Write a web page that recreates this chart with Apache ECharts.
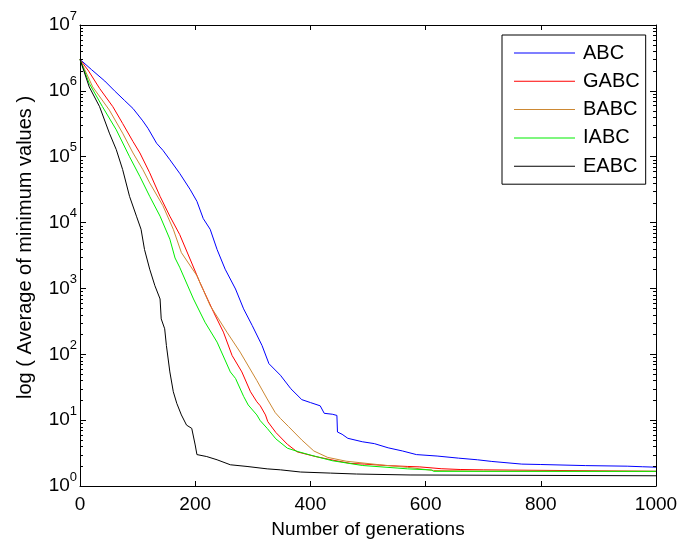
<!DOCTYPE html>
<html>
<head>
<meta charset="utf-8">
<script src="https://cdn.jsdelivr.net/npm/echarts@6/dist/echarts.min.js"></script>
<style>html,body{margin:0;padding:0;background:#fff;}#c{width:695px;height:544px;}</style>
</head>
<body>
<div id="c"></div>
<script>
var seriesNames = ['ABC', 'GABC', 'BABC', 'IABC', 'EABC'];
var xTicks = [0, 200, 400, 600, 800, 1000];
var yTickExponents = [0, 1, 2, 3, 4, 5, 6, 7];
var minorMultipliers = [2, 3, 4, 5, 6, 7, 8, 9];

var abcData = [[0,3.0e6],[20,2.1e6],[43,1.41e6],[60,1.0e6],[77,7.2e5],[92,5.4e5],[109,3.5e5],[118,2.7e5],[133,1.6e5],[144,1.25e5],[156,9.0e4],[173,5.6e4],[191,3.2e4],[203,2.1e4],[214,1.15e4],[226,7.9e3],[238,3.9e3],[252,1.96e3],[270,980],[284,490],[299,273],[316,136],[328,72],[348,48],[366,30],[385,20.5],[400,18.5],[417,16.5],[424,12.7],[438,12.3],[446,11.8],[447,6.6],[455,6.1],[465,5.3],[490,4.7],[511,4.4],[535,3.8],[560,3.4],[584,3.0],[620,2.85],[657,2.65],[690,2.5],[715,2.36],[767,2.15],[800,2.12],[878,2.04],[950,2.0],[977,1.96],[1000,1.93]];
var gabcData = [[0,3.0e6],[15,2.0e6],[34,1.09e6],[57,5.75e5],[74,3.2e5],[92,1.7e5],[104,1.14e5],[121,5.7e4],[139,2.5e4],[156,1.25e4],[173,6.6e3],[191,2.8e3],[208,1.24e3],[232,435],[249,217],[264,96],[281,54],[296,27],[307,19],[313,16.5],[322,12],[326,9.5],[340,6.5],[360,4.3],[377,3.3],[409,2.8],[441,2.45],[470,2.2],[494,2.15],[530,2.05],[569,1.98],[590,1.95],[627,1.83],[660,1.78],[700,1.76],[702,1.67],[1000,1.67]];
var babcData = [[0,3.0e6],[22,1.15e6],[51,5.1e5],[74,2.28e5],[92,1.14e5],[109,6.4e4],[121,4.0e4],[144,1.8e4],[162,7.9e3],[176,3.5e3],[203,1.56e3],[226,548],[255,217],[278,108],[307,40],[325,21],[339,13],[348,10.6],[362,8.0],[385,5.0],[406,3.4],[430,2.72],[462,2.38],[520,2.1],[569,1.92],[614,1.72],[700,1.68],[1000,1.67]];
var iabcData = [[0,3.0e6],[16,1.3e6],[39,5.75e5],[63,2.56e5],[86,1.0e5],[104,5.0e4],[121,2.5e4],[139,1.25e4],[156,5.6e3],[165,2.9e3],[173,2.1e3],[197,692],[217,307],[238,153],[261,54],[270,43],[284,23],[292,17],[307,12],[313,9.8],[325,7.5],[340,5.2],[360,3.75],[380,3.3],[400,2.95],[438,2.42],[490,2.05],[552,1.87],[569,1.82],[610,1.75],[614,1.67],[1000,1.67]];
var eabcData = [[0,3.0e6],[16,1.15e6],[34,5.75e5],[51,2.28e5],[63,1.28e5],[74,6.4e4],[86,2.5e4],[98,1.25e4],[106,7.9e3],[112,3.9e3],[121,1.96e3],[130,1.1e3],[139,692],[141,345],[147,244],[150,136],[156,54],[162,27],[168,18],[176,12],[185,8.4],[194,7.5],[200,4.2],[203,3.0],[220,2.8],[238,2.5],[261,2.1],[290,1.98],[325,1.82],[348,1.76],[383,1.63],[435,1.57],[480,1.52],[573,1.47],[575,1.43],[1000,1.43]];

var seriesData = [abcData, gabcData, babcData, iabcData, eabcData];
var seriesColors = ['#0000ff', '#ff0000', '#cc8833', '#00ee00', '#000000'];

var minorData = [];
for (var e = 0; e < 7; e++) {
  for (var m = 0; m < minorMultipliers.length; m++) {
    minorData.push([0, minorMultipliers[m] * Math.pow(10, e)]);
  }
}

var FONT = 'Liberation Sans, Arial, sans-serif';
var chart = echarts.init(document.getElementById('c'), null, {renderer: 'canvas'});

var series = seriesNames.map(function (n, i) {
  return {
    name: n, type: 'line', data: seriesData[i], symbol: 'none', showSymbol: false,
    xAxisIndex: 0, yAxisIndex: 0,
    lineStyle: {color: seriesColors[i], width: 1}, itemStyle: {color: seriesColors[i]},
    z: 3 + i
  };
});
series.push({
  type: 'custom', silent: true, data: minorData, xAxisIndex: 0, yAxisIndex: 0, z: 10,
  renderItem: function (params, api) {
    var p = api.coord([0, api.value(1)]);
    var cs = params.coordSys;
    var y = Math.round(p[1]) + 0.5;
    return {type: 'group', children: [
      {type: 'line', shape: {x1: cs.x, y1: y, x2: cs.x + 3, y2: y}, style: {stroke: '#000', lineWidth: 1}},
      {type: 'line', shape: {x1: cs.x + cs.width, y1: y, x2: cs.x + cs.width - 3, y2: y}, style: {stroke: '#000', lineWidth: 1}}
    ]};
  }
});

function yLabel(v) {
  var ex = Math.round(Math.log10(v));
  if (yTickExponents.indexOf(ex) < 0) return '';
  return '{b|10}{s|' + ex + '}';
}

chart.setOption({
  animation: false,
  backgroundColor: '#fff',
  grid: {left: 80, right: 39, top: 25, bottom: 56},
  legend: {
    data: seriesNames, orient: 'vertical', left: 502, top: 35,
    icon: 'rect', itemWidth: 61, itemHeight: 1, itemGap: 8.3,
    padding: [8, 6, 8, 12], borderColor: '#000', borderWidth: 1, backgroundColor: '#fff',
    textStyle: {fontSize: 20, color: '#000', fontFamily: FONT, lineHeight: 20, padding: [0, 0, 0, 3]}
  },
  xAxis: [{
    type: 'value', min: xTicks[0], max: xTicks[xTicks.length - 1], interval: 200, position: 'bottom',
    name: 'Number of generations', nameLocation: 'middle', nameGap: 34,
    nameTextStyle: {fontSize: 19, color: '#000', fontFamily: FONT},
    axisLine: {show: true, onZero: false, lineStyle: {color: '#000', width: 1}},
    axisTick: {show: true, inside: true, length: 5, lineStyle: {color: '#000'}},
    axisLabel: {fontSize: 19, color: '#000', fontFamily: FONT, margin: 9, formatter: function (v) { return String(v); }},
    splitLine: {show: false}
  }, {
    type: 'value', min: xTicks[0], max: xTicks[xTicks.length - 1], interval: 200, position: 'top',
    axisLine: {show: true, onZero: false, lineStyle: {color: '#000', width: 1}},
    axisTick: {show: true, inside: true, length: 5, lineStyle: {color: '#000'}},
    axisLabel: {show: false}, splitLine: {show: false}
  }],
  yAxis: [{
    type: 'log', logBase: 10, min: 1, max: 1e7, position: 'left',
    name: 'log ( Average of minimum values )', nameLocation: 'middle', nameGap: 45,
    nameTextStyle: {fontSize: 20, color: '#000', fontFamily: FONT, padding: [0, 0, 0, 16]},
    axisLine: {show: true, onZero: false, lineStyle: {color: '#000', width: 1}},
    axisTick: {show: true, inside: true, length: 6, lineStyle: {color: '#000'}},
    axisLabel: {
      formatter: yLabel, margin: 3, color: '#000', fontFamily: FONT,
      rich: {
        b: {fontSize: 19, color: '#000', fontFamily: FONT, padding: [6, 0, 6, 0], verticalAlign: 'middle'},
        s: {fontSize: 13, color: '#000', fontFamily: FONT, verticalAlign: 'top'}
      }
    },
    splitLine: {show: false}
  }, {
    type: 'log', logBase: 10, min: 1, max: 1e7, position: 'right',
    axisLine: {show: true, onZero: false, lineStyle: {color: '#000', width: 1}},
    axisTick: {show: true, inside: true, length: 6, lineStyle: {color: '#000'}},
    axisLabel: {show: false}, splitLine: {show: false}
  }],
  series: series
});
</script>
</body>
</html>
